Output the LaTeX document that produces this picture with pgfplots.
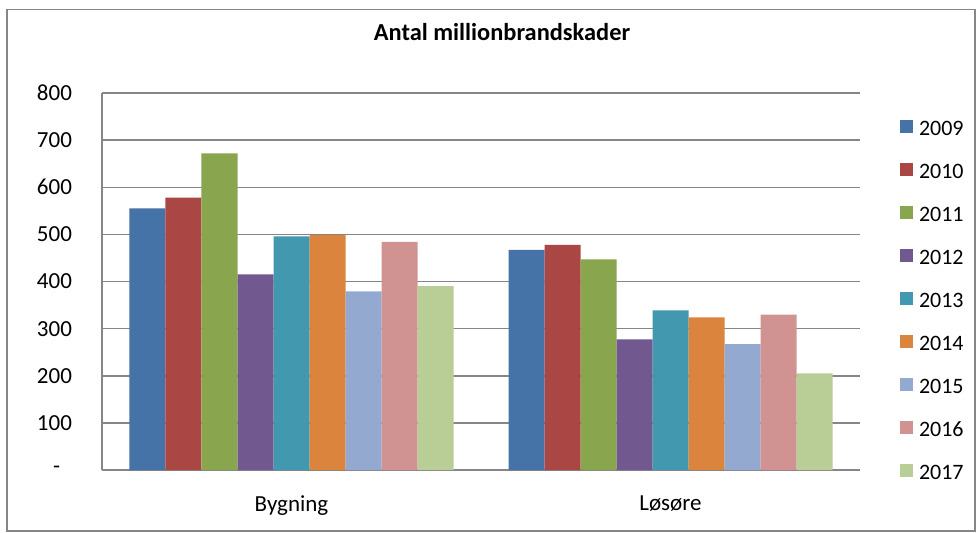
\documentclass[border=0pt]{standalone}
\usepackage{fontspec}
\setmainfont{Carlito}
\usepackage{pgfplots}
\pgfplotsset{compat=1.18}

\definecolor{c2009}{HTML}{4572A7}
\definecolor{c2010}{HTML}{AA4643}
\definecolor{c2011}{HTML}{89A54E}
\definecolor{c2012}{HTML}{71588F}
\definecolor{c2013}{HTML}{4198AF}
\definecolor{c2014}{HTML}{DB843D}
\definecolor{c2015}{HTML}{93A9CF}
\definecolor{c2016}{HTML}{D19392}
\definecolor{c2017}{HTML}{B9CD96}
\definecolor{gridgray}{HTML}{868686}

\begin{document}
\begin{tikzpicture}
\begin{axis}[
    scale only axis,
    width=379pt, height=188.5pt,
    ybar=0pt, bar width=18pt,
    xmin=-0.5, xmax=1.5,
    ymin=0, ymax=800,
    xtick={0,1}, xticklabels={Bygning,Løsøre},
    ytick={0,100,...,800},
    yticklabels={-\hphantom{0},100,200,300,400,500,600,700,800},
    major tick length=0pt,
    axis x line*=bottom, axis y line*=left,
    axis line style={gridgray, line width=0.75pt},
    ymajorgrids,
    major grid style={gridgray, line width=0.75pt},
    tick label style={font=\fontsize{11.5}{13}\selectfont},
    yticklabel style={xshift=-11.5pt},
    xticklabel style={yshift=-9.5pt},
    title={Antal millionbrandskader},
    title style={font=\fontsize{12.2}{14}\selectfont\bfseries, at={(0.5277,1.108)}, anchor=base},
    legend style={draw=none, fill=none, at={(1.0528,0.931)}, anchor=north west,
        inner sep=0pt, outer sep=0pt, row sep=13.5pt, column sep=3pt,
        font=\fontsize{11}{13}\selectfont,
        nodes={inner sep=0pt, text height=8pt, text depth=0pt}},
    legend cell align=left,
    legend image code/.code={\fill[#1] (0pt,-3pt) rectangle (6.5pt,3.5pt);},
    every axis plot/.append style={draw=none},
]
\addplot[fill=c2009] coordinates {(0,555) (1,467)};
\addplot[fill=c2010] coordinates {(0,578) (1,478)};
\addplot[fill=c2011] coordinates {(0,672) (1,447)};
\addplot[fill=c2012] coordinates {(0,415) (1,277)};
\addplot[fill=c2013] coordinates {(0,496) (1,339)};
\addplot[fill=c2014] coordinates {(0,499) (1,324)};
\addplot[fill=c2015] coordinates {(0,379) (1,267)};
\addplot[fill=c2016] coordinates {(0,484) (1,330)};
\addplot[fill=c2017] coordinates {(0,390) (1,205)};
\legend{2009,2010,2011,2012,2013,2014,2015,2016,2017}
\end{axis}
\path[use as bounding box] (-51pt,-31pt) rectangle (438.5pt,235pt);
\draw[gridgray, line width=0.75pt] (-47.5pt,-30.5pt) rectangle (436.5pt,230.25pt);
\end{tikzpicture}
\end{document}
